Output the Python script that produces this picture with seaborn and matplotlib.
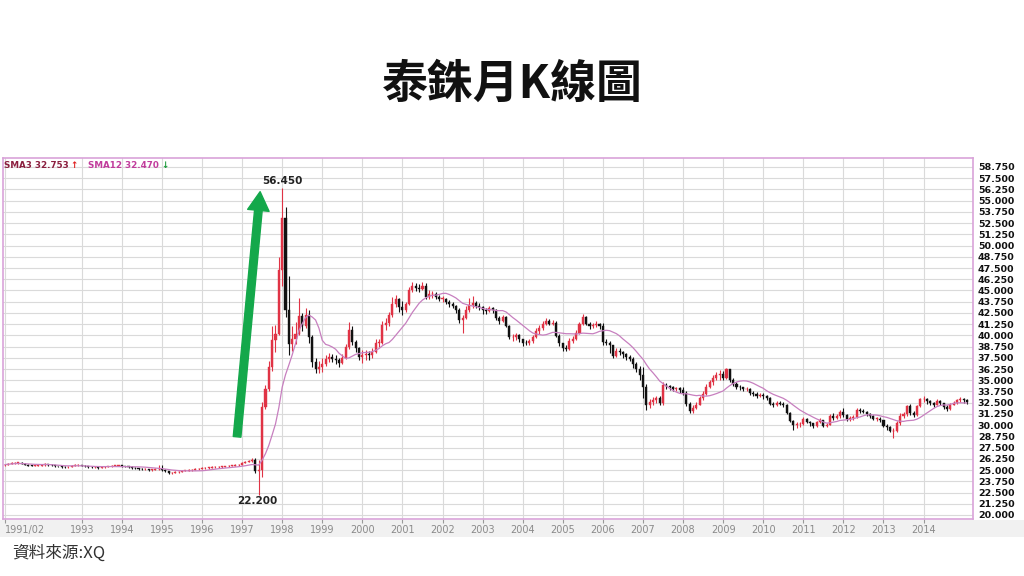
import numpy as np
import pandas as pd
import matplotlib
matplotlib.use("Agg")
import matplotlib.pyplot as plt
import seaborn as sns
from matplotlib.patches import Rectangle, FancyArrowPatch

sns.set_theme(style="white")
plt.rcParams['font.family'] = ['Noto Sans CJK TC', 'DejaVu Sans']

# ---------------- data (monthly USD/THB, 1991/02 - 2015/02) ----------------
first_open = 25.55
c1991 = [25.60, 25.70, 25.75, 25.80, 25.80, 25.70, 25.60, 25.50, 25.45, 25.45, 25.50]
h1991 = [25.70, 25.80, 25.85, 25.90, 25.90, 25.85, 25.75, 25.65, 25.55, 25.55, 25.60]
l1991 = [25.50, 25.55, 25.65, 25.70, 25.70, 25.65, 25.55, 25.45, 25.40, 25.40, 25.40]
c1992 = [25.55, 25.65, 25.60, 25.55, 25.45, 25.40, 25.35, 25.30, 25.35, 25.45, 25.55, 25.55]
h1992 = [25.65, 25.75, 25.70, 25.65, 25.60, 25.50, 25.45, 25.40, 25.45, 25.55, 25.65, 25.65]
l1992 = [25.40, 25.50, 25.50, 25.45, 25.35, 25.30, 25.25, 25.20, 25.25, 25.30, 25.40, 25.45]
c1993 = [25.50, 25.40, 25.35, 25.30, 25.30, 25.25, 25.30, 25.35, 25.40, 25.45, 25.50, 25.50]
h1993 = [25.60, 25.55, 25.45, 25.40, 25.40, 25.35, 25.40, 25.45, 25.50, 25.55, 25.60, 25.60]
l1993 = [25.40, 25.35, 25.25, 25.20, 25.20, 25.15, 25.20, 25.25, 25.30, 25.35, 25.40, 25.40]
c1994 = [25.45, 25.40, 25.35, 25.25, 25.20, 25.15, 25.10, 25.10, 25.05, 25.05, 25.10, 25.10]
h1994 = [25.60, 25.50, 25.45, 25.40, 25.30, 25.25, 25.20, 25.20, 25.15, 25.15, 25.20, 25.55]
l1994 = [25.35, 25.30, 25.25, 25.15, 25.10, 25.05, 25.00, 25.00, 24.95, 24.95, 25.00, 25.00]
c1995 = [25.05, 24.85, 24.65, 24.70, 24.75, 24.80, 24.90, 24.95, 25.00, 25.05, 25.10, 25.15]
h1995 = [25.60, 25.10, 24.90, 24.80, 24.85, 24.90, 25.00, 25.05, 25.10, 25.15, 25.20, 25.25]
l1995 = [24.95, 24.75, 24.55, 24.60, 24.65, 24.70, 24.80, 24.85, 24.90, 24.95, 25.00, 25.05]
c1996 = [25.20, 25.25, 25.25, 25.30, 25.30, 25.35, 25.35, 25.40, 25.45, 25.50, 25.55, 25.60]
h1996 = [25.30, 25.35, 25.35, 25.40, 25.40, 25.45, 25.45, 25.50, 25.55, 25.60, 25.65, 25.70]
l1996 = [25.10, 25.15, 25.15, 25.20, 25.20, 25.25, 25.25, 25.30, 25.35, 25.40, 25.45, 25.50]
c1997 = [25.80, 25.95, 26.05, 26.10, 24.90, 25.00, 32.00, 34.00, 36.50, 39.50, 40.20, 47.30]
h1997 = [25.90, 26.05, 26.15, 26.30, 26.30, 26.10, 32.60, 34.50, 37.20, 41.00, 41.20, 48.70]
l1997 = [25.55, 25.75, 25.90, 25.95, 24.70, 22.20, 24.20, 31.80, 33.80, 36.00, 38.20, 40.00]
c1998 = [53.10, 42.80, 39.00, 39.60, 40.20, 42.20, 41.00, 42.30, 39.80, 37.00, 36.20, 36.50]
h1998 = [56.45, 54.30, 46.60, 41.00, 41.50, 44.20, 42.50, 43.00, 42.80, 40.00, 37.50, 37.20]
l1998 = [45.50, 42.00, 37.80, 38.30, 39.00, 40.00, 40.50, 40.80, 39.20, 36.50, 35.80, 35.80]
c1999 = [36.80, 37.40, 37.60, 37.40, 37.30, 36.90, 37.50, 38.70, 40.60, 39.30, 38.60, 37.60]
h1999 = [37.50, 37.80, 38.00, 37.90, 37.80, 37.50, 37.90, 39.00, 41.50, 41.00, 39.50, 38.70]
l1999 = [35.90, 36.60, 37.00, 37.00, 36.80, 36.50, 36.80, 37.40, 38.50, 38.90, 38.20, 37.30]
c2000 = [37.80, 37.90, 37.80, 38.20, 39.20, 39.20, 41.20, 41.40, 42.30, 43.50, 44.00, 43.20]
h2000 = [38.40, 38.40, 38.30, 38.60, 39.60, 39.60, 41.60, 41.90, 42.60, 44.30, 44.50, 44.20]
l2000 = [36.90, 37.30, 37.30, 37.50, 38.00, 38.70, 39.00, 40.60, 41.00, 42.00, 43.20, 42.60]
c2001 = [42.80, 43.50, 45.00, 45.50, 45.30, 45.20, 45.50, 44.30, 44.60, 44.60, 44.30, 44.10]
h2001 = [43.80, 43.70, 45.40, 45.90, 45.80, 45.70, 45.90, 45.80, 45.00, 44.90, 44.80, 44.50]
l2001 = [42.30, 42.60, 43.40, 44.80, 44.90, 44.80, 45.00, 44.10, 44.00, 44.20, 44.00, 43.80]
c2002 = [44.10, 43.70, 43.50, 43.30, 42.80, 41.70, 41.90, 42.80, 43.40, 43.60, 43.30, 43.20]
h2002 = [44.40, 44.20, 43.90, 43.70, 43.40, 43.00, 42.30, 43.30, 44.20, 44.40, 43.80, 43.60]
l2002 = [43.70, 43.50, 43.20, 43.00, 42.50, 41.40, 40.30, 41.80, 42.60, 43.10, 43.00, 42.80]
c2003 = [42.80, 42.70, 43.00, 42.80, 41.90, 41.60, 42.00, 41.00, 39.80, 39.80, 40.00, 39.60]
h2003 = [43.30, 43.00, 43.30, 43.20, 42.90, 42.10, 42.30, 42.10, 41.10, 40.20, 40.30, 40.20]
l2003 = [42.40, 42.40, 42.60, 42.50, 41.70, 41.30, 41.50, 40.90, 39.60, 39.40, 39.50, 39.30]
c2004 = [39.20, 39.10, 39.40, 39.80, 40.50, 40.80, 41.30, 41.60, 41.30, 41.40, 39.90, 39.10]
h2004 = [39.60, 39.50, 39.60, 40.00, 40.80, 41.20, 41.60, 41.90, 41.80, 41.70, 41.60, 40.10]
l2004 = [38.80, 38.90, 38.90, 39.10, 39.70, 40.20, 40.60, 41.10, 41.10, 41.10, 39.80, 38.80]
c2005 = [38.60, 38.50, 39.40, 39.60, 40.30, 41.30, 42.00, 41.30, 41.00, 41.10, 41.30, 41.00]
h2005 = [39.20, 38.90, 39.70, 39.90, 40.60, 41.50, 42.40, 42.10, 41.50, 41.40, 41.60, 41.40]
l2005 = [38.30, 38.30, 38.40, 39.20, 39.50, 40.10, 41.10, 41.10, 40.70, 40.80, 40.90, 40.70]
c2006 = [39.30, 39.20, 38.90, 37.70, 38.30, 38.20, 37.90, 37.60, 37.40, 36.80, 36.30, 35.60]
h2006 = [41.40, 39.60, 39.40, 38.90, 38.60, 38.60, 38.30, 38.00, 37.80, 37.60, 37.00, 36.60]
l2006 = [38.90, 38.90, 38.00, 37.50, 37.60, 37.80, 37.50, 37.30, 37.10, 36.40, 35.90, 35.00]
c2007 = [34.30, 32.20, 32.60, 32.80, 33.00, 32.50, 34.50, 34.40, 34.20, 34.00, 34.10, 33.90]
h2007 = [36.50, 34.60, 32.90, 33.10, 33.30, 33.20, 34.80, 34.70, 34.50, 34.40, 34.30, 34.30]
l2007 = [33.00, 31.70, 31.90, 32.30, 32.50, 32.20, 32.30, 34.00, 33.90, 33.80, 33.80, 33.60]
c2008 = [33.60, 32.40, 31.60, 31.90, 32.30, 33.00, 33.50, 34.30, 34.80, 35.30, 35.60, 35.70]
h2008 = [34.30, 33.80, 32.60, 32.20, 32.60, 33.30, 33.80, 34.60, 35.00, 35.60, 35.90, 36.10]
l2008 = [33.40, 32.10, 31.30, 31.40, 31.80, 32.20, 32.80, 33.40, 34.10, 34.50, 35.00, 35.00]
c2009 = [35.30, 36.20, 35.00, 34.60, 34.30, 34.20, 34.00, 34.00, 33.60, 33.50, 33.30, 33.40]
h2009 = [36.00, 36.40, 36.30, 35.20, 34.80, 34.50, 34.30, 34.20, 34.10, 33.80, 33.70, 33.60]
l2009 = [35.00, 35.10, 34.80, 34.40, 34.00, 33.90, 33.80, 33.80, 33.40, 33.20, 33.00, 33.10]
c2010 = [33.20, 33.00, 32.40, 32.30, 32.50, 32.40, 32.30, 31.40, 30.50, 30.00, 30.10, 30.10]
h2010 = [33.60, 33.40, 33.10, 32.60, 32.70, 32.70, 32.60, 32.40, 31.50, 30.60, 30.40, 30.40]
l2010 = [32.90, 32.80, 32.30, 32.00, 32.10, 32.20, 32.00, 31.20, 30.30, 29.50, 29.70, 29.80]
c2011 = [30.70, 30.40, 30.20, 29.90, 30.30, 30.60, 29.90, 30.00, 31.00, 30.80, 31.00, 31.50]
h2011 = [30.90, 30.80, 30.50, 30.20, 30.50, 30.80, 30.60, 30.20, 31.20, 31.30, 31.20, 31.70]
l2011 = [30.00, 30.20, 29.90, 29.70, 29.80, 30.20, 29.80, 29.80, 30.00, 30.60, 30.70, 30.80]
c2012 = [31.10, 30.70, 30.80, 30.90, 31.70, 31.60, 31.50, 31.20, 31.00, 30.70, 30.70, 30.60]
h2012 = [31.90, 31.20, 31.00, 31.10, 31.90, 31.90, 31.80, 31.60, 31.40, 31.10, 30.90, 30.90]
l2012 = [30.90, 30.50, 30.50, 30.60, 30.80, 31.30, 31.30, 31.00, 30.80, 30.60, 30.50, 30.40]
c2013 = [29.90, 29.80, 29.30, 29.40, 30.20, 31.00, 31.20, 32.10, 31.30, 31.10, 32.10, 32.90]
h2013 = [30.60, 30.10, 29.90, 29.70, 30.50, 31.30, 31.50, 32.30, 32.40, 31.60, 32.30, 33.00]
l2013 = [29.80, 29.50, 29.20, 28.60, 29.20, 30.00, 30.80, 31.00, 31.10, 30.90, 31.00, 32.00]
c2014 = [32.90, 32.70, 32.50, 32.28, 32.70, 32.50, 32.00, 31.80, 32.30, 32.50, 32.80, 32.90]
h2014 = [33.30, 33.00, 32.80, 32.60, 32.90, 32.80, 32.50, 32.20, 32.50, 32.70, 32.90, 33.10]
l2014 = [32.60, 32.40, 32.20, 32.00, 32.20, 32.30, 31.80, 31.60, 31.70, 32.20, 32.40, 32.60]
c2015 = [32.75, 32.61]
h2015 = [33.00, 32.90]
l2015 = [32.50, 32.40]

x_labels = ['1991/02', '1993', '1994', '1995', '1996', '1997', '1998', '1999', '2000',
            '2001', '2002', '2003', '2004', '2005', '2006', '2007', '2008', '2009',
            '2010', '2011', '2012', '2013', '2014']
y_ticks = list(np.arange(20.0, 58.76, 1.25))
legend_sma3 = 'SMA3 32.753'
legend_sma12 = 'SMA12 32.470'
title = '泰銖月K線圖'
source = '資料來源:XQ'

years = list(range(1991, 2016))
g = globals()
close = sum([g[f'c{y}'] for y in years], [])
high = sum([g[f'h{y}'] for y in years], [])
low = sum([g[f'l{y}'] for y in years], [])
n = len(close)
opens = [first_open] + close[:-1]

df = pd.DataFrame({'t': np.arange(n), 'open': opens, 'close': close,
                   'high': high, 'low': low})
df['high'] = df[['high', 'open', 'close']].max(axis=1)
df['low'] = df[['low', 'open', 'close']].min(axis=1)
df['sma12'] = df['close'].rolling(12, min_periods=1).mean()

# ---------------- figure ----------------
W, H = 1024, 576
fig = plt.figure(figsize=(W / 100, H / 100), dpi=100)
fig.patch.set_facecolor('white')

# x label strip
fig.patches.append(Rectangle((0, 1 - 537 / H), 1, 17 / H, transform=fig.transFigure,
                             facecolor='#f1f1f1', edgecolor='none', zorder=-5))

ax = fig.add_axes([3 / W, 1 - 519 / H, 970 / W, 361 / H])
ax.set_facecolor('white')
ax.set_xlim(-0.57, 289.8)
ax.set_ylim(19.55, 59.75)

# grid
ax.set_yticks(y_ticks)
ax.set_yticklabels([f'{v:.3f}' for v in y_ticks])
xt = [0] + [23 + 12 * k for k in range(len(x_labels) - 1)]
ax.set_xticks(xt)
ax.set_xticklabels(x_labels)
ax.grid(True, color='#dadada', lw=0.8)
ax.set_axisbelow(True)
ax.yaxis.tick_right()
ax.tick_params(axis='y', length=0, pad=3.5, labelsize=6.8, labelcolor='#111111')
for lab in ax.get_yticklabels():
    lab.set_fontweight('bold')
    lab.set_family('DejaVu Sans')
ax.tick_params(axis='x', length=3, width=0.8, color='#999999', pad=1.5,
               labelsize=7, labelcolor='#8a8a8a', direction='out', bottom=True)
for lab in ax.get_xticklabels():
    lab.set_family('DejaVu Sans')
ax.get_xticklabels()[0].set_horizontalalignment('left')

for s in ax.spines.values():
    s.set_color('#d9a3d9')
    s.set_linewidth(1.2)

# candles
up = df['close'] >= df['open']
col = np.where(up, '#e03345', '#111111')
ax.vlines(df['t'], df['low'], df['high'], colors=col, lw=0.8, zorder=3)
body_h = (df['close'] - df['open']).abs().clip(lower=0.06)
body_b = df[['open', 'close']].min(axis=1)
ax.bar(df['t'], body_h, bottom=body_b, width=0.62, color=col, edgecolor=col,
       linewidth=0.3, zorder=4)

# moving average
sns.lineplot(data=df, x='t', y='sma12', ax=ax, color='#c77fbf', lw=0.9, zorder=5,
             legend=False)
ax.set_xlabel('')
ax.set_ylabel('')

# extreme annotations
imax = int(df['high'].idxmax())
imin = int(df['low'].idxmin())
ax.annotate(f"{df['high'].max():.3f}", (imax, df['high'].max()), xytext=(0, 1.5),
            textcoords='offset points', ha='center', va='bottom', fontsize=7.5,
            fontweight='bold', color='#222222', family='DejaVu Sans', zorder=6)
ax.annotate(f"{df['low'].min():.3f}", (imin, df['low'].min()), xytext=(-1, -0.5),
            textcoords='offset points', ha='center', va='top', fontsize=7.5,
            fontweight='bold', color='#222222', family='DejaVu Sans', zorder=6)

# green arrow
arr = FancyArrowPatch((69.5, 28.7), (76.4, 56.0),
                      arrowstyle='simple,tail_width=0.55,head_width=1.55,head_length=1.35',
                      mutation_scale=10, color='#14a84b', shrinkA=0, shrinkB=0, zorder=7)
ax.add_patch(arr)

# legend texts
fig.text(4 / W, 1 - 166 / H, legend_sma3, fontsize=6.3, fontweight='bold',
         color='#8b1f3f', va='center', family='DejaVu Sans')
fig.text(70 / W, 1 - 166 / H, '↑', fontsize=6.3, fontweight='bold',
         color='#e02020', va='center', family='DejaVu Sans')
fig.text(88 / W, 1 - 166 / H, legend_sma12, fontsize=6.3, fontweight='bold',
         color='#c13c9c', va='center', family='DejaVu Sans')
fig.text(161 / W, 1 - 166 / H, '↓', fontsize=6.3, fontweight='bold',
         color='#1a9a3a', va='center', family='DejaVu Sans')

# title and source
fig.text(0.5, 1 - 85 / H, title, ha='center', va='center', fontsize=33,
         fontweight='bold', color='#111111')
fig.text(12 / W, 1 - 553 / H, source, ha='left', va='center', fontsize=12,
         color='#333333')

fig.savefig('out.png', dpi=100)
